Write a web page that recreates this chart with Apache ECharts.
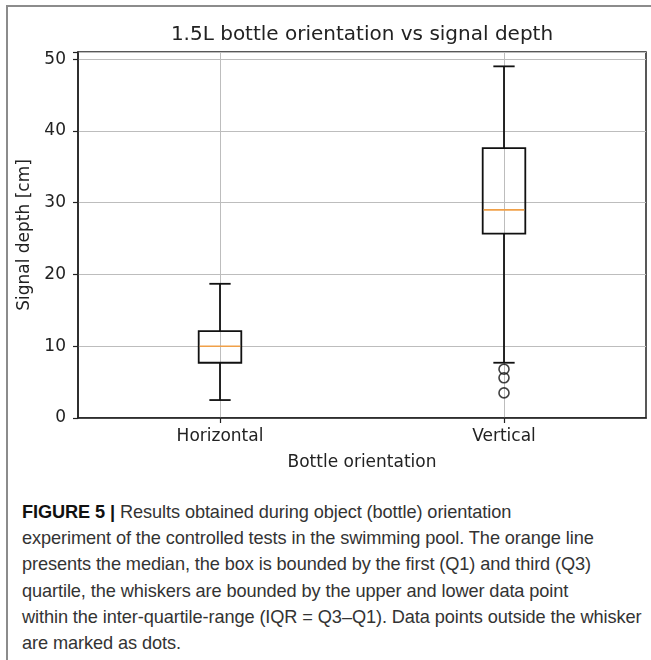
<!DOCTYPE html>
<html>
<head>
<meta charset="utf-8">
<script src="https://cdn.jsdelivr.net/npm/echarts@6/dist/echarts.min.js"></script>
<style>
  html, body { margin: 0; padding: 0; background: #fff; }
  #page { position: relative; width: 651px; height: 660px; overflow: hidden; }
  #frame { position: absolute; left: 6px; top: 5px; width: 700px; height: 700px;
    border-left: 2px solid #8c8c8c; border-top: 2px solid #8c8c8c; }
  #chart { position: absolute; left: 0; top: 0; width: 651px; height: 480px; }
  #caption { position: absolute; left: 22px; top: 499px; font-family: "Liberation Sans", Arial, sans-serif;
    font-size: 18.2px; line-height: 26.2px; color: #333; white-space: nowrap; letter-spacing: -0.1px; }
  #caption b { color: #111; }
</style>
</head>
<body>
<div id="page">
  <div id="frame"></div>
  <div id="chart"></div>
  <div id="caption">
    <b>FIGURE 5 |</b> Results obtained during object (bottle) orientation<br>
    experiment of the controlled tests in the swimming pool. The orange line<br>
    presents the median, the box is bounded by the first (Q1) and third (Q3)<br>
    quartile, the whiskers are bounded by the upper and lower data point<br>
    within the inter-quartile-range (IQR = Q3–Q1). Data points outside the whisker<br>
    are marked as dots.
  </div>
</div>
<script>
const categories = ['Horizontal', 'Vertical'];
// lower whisker, Q1, median, Q3, upper whisker
const horizontalStats = [2.5, 7.7, 10.0, 12.1, 18.7];
const verticalStats = [7.7, 25.7, 29.0, 37.6, 49.0];
const verticalOutliers = [6.8, 5.6, 3.5];

const boxData = [[0].concat(horizontalStats), [1].concat(verticalStats)];
const outlierData = verticalOutliers.map(v => [1, v]);

const textColor = '#222';
const font = 'DejaVu Sans';

function renderBox(params, api) {
  const idx = api.value(0);
  const band = api.size([1, 0])[0];
  const half = band * 0.075; // matplotlib box width 0.15
  const capHalf = half / 2;
  const p = [1, 2, 3, 4, 5].map(i => api.coord([idx, api.value(i)]));
  const cx = p[0][0];
  const ls = { stroke: '#111', lineWidth: 1.8, fill: null };
  return {
    type: 'group',
    children: [
      { type: 'line', shape: { x1: cx, y1: p[0][1], x2: cx, y2: p[1][1] }, style: ls },
      { type: 'line', shape: { x1: cx, y1: p[3][1], x2: cx, y2: p[4][1] }, style: ls },
      { type: 'line', shape: { x1: cx - capHalf, y1: p[0][1], x2: cx + capHalf, y2: p[0][1] }, style: ls },
      { type: 'line', shape: { x1: cx - capHalf, y1: p[4][1], x2: cx + capHalf, y2: p[4][1] }, style: ls },
      { type: 'rect', shape: { x: cx - half, y: p[3][1], width: 2 * half, height: p[1][1] - p[3][1] },
        style: { stroke: '#111', lineWidth: 1.8, fill: 'none' } },
      { type: 'line', shape: { x1: cx - half + 1, y1: p[2][1], x2: cx + half - 1, y2: p[2][1] },
        style: { stroke: '#f0a048', lineWidth: 1.6 } }
    ]
  };
}

const chart = echarts.init(document.getElementById('chart'));
const option = {
  animation: false,
  graphic: [{
    type: 'text', x: 362, y: 35,
    style: { text: '1.5L bottle orientation vs signal depth', fill: textColor,
      font: '20px "DejaVu Sans"', textAlign: 'center', textVerticalAlign: 'middle' }
  }],
  grid: { left: 78, right: 5, top: 52, bottom: 62, show: true, borderColor: '#222', borderWidth: 1.5 },
  xAxis: {
    type: 'category', data: categories, boundaryGap: true,
    name: 'Bottle orientation', nameLocation: 'middle', nameGap: 36,
    nameTextStyle: { fontFamily: font, fontSize: 17, color: textColor },
    axisLine: { show: true, lineStyle: { color: '#222', width: 1.5 } },
    axisTick: { show: true, alignWithLabel: true, length: 5, lineStyle: { color: '#222', width: 1.2 } },
    axisLabel: { fontFamily: font, fontSize: 17, color: textColor, margin: 10 },
    splitLine: { show: true, alignWithLabel: true, lineStyle: { color: '#bdbdbd', width: 1 } }
  },
  yAxis: {
    type: 'value', min: 0, max: 51, interval: 10,
    name: 'Signal depth [cm]', nameLocation: 'middle', nameGap: 38, nameRotate: 90,
    nameTextStyle: { fontFamily: font, fontSize: 17, color: textColor },
    axisLine: { show: true, lineStyle: { color: '#222', width: 1.5 } },
    axisTick: { show: true, length: 5, lineStyle: { color: '#222', width: 1.2 } },
    axisLabel: { fontFamily: font, fontSize: 17, color: textColor, margin: 12,
      formatter: v => (v % 10 === 0 ? String(v) : '') },
    splitLine: { show: true, lineStyle: { color: '#bdbdbd', width: 1 } }
  },
  series: [
    {
      type: 'custom', renderItem: renderBox, data: boxData,
      encode: { x: 0, y: [1, 2, 3, 4, 5] }, z: 3
    },
    {
      type: 'scatter', data: outlierData, symbol: 'circle', symbolSize: 10,
      itemStyle: { color: 'transparent', borderColor: '#111', borderWidth: 1.6 }, z: 4
    }
  ]
};
chart.setOption(option);
window.addEventListener('resize', chart.resize);
</script>
</body>
</html>
